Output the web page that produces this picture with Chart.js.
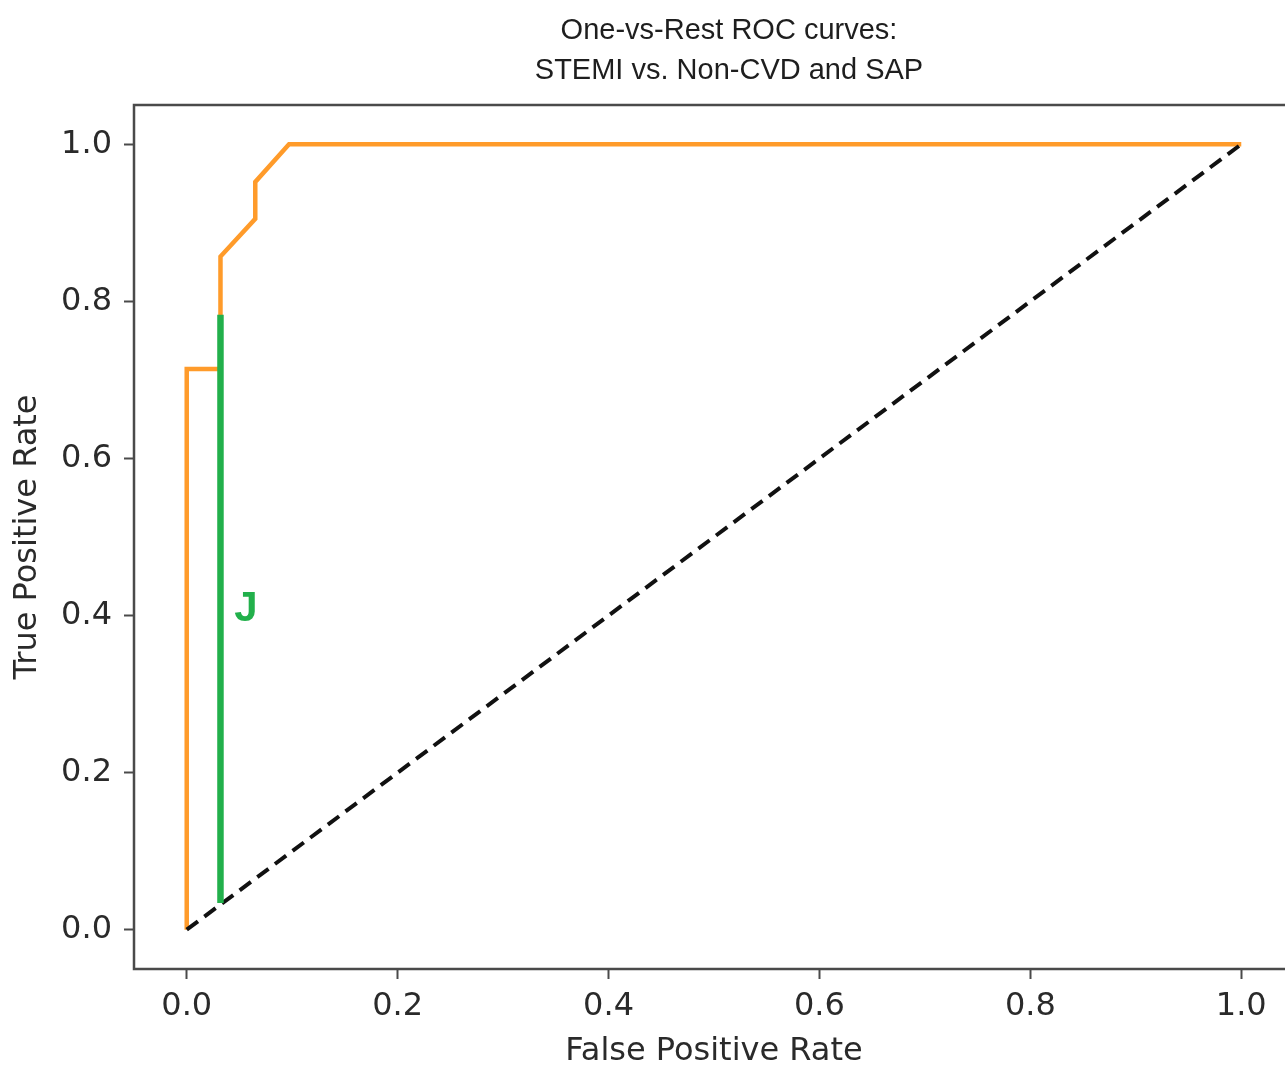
<!DOCTYPE html>
<html>
<head>
<meta charset="utf-8">
<script src="https://cdn.jsdelivr.net/npm/chart.js@4/dist/chart.umd.min.js"></script>
<style>
  html, body { margin: 0; padding: 0; background: #fff; overflow: hidden; width: 1285px; height: 1065px; }
  #wrap { position: relative; width: 1458px; height: 1065px; }
</style>
</head>
<body>
<div id="wrap"><canvas id="c" width="1458" height="1065"></canvas></div>
<script>
// ---- data ----
const titleLines = ['One-vs-Rest ROC curves:', 'STEMI vs. Non-CVD and SAP'];
const xLabel = 'False Positive Rate';
const yLabel = 'True Positive Rate';
const tickValues = [0.0, 0.2, 0.4, 0.6, 0.8, 1.0];

// ROC curve (STEMI vs rest)
const rocFpr = [0.0, 0.0, 0.032, 0.032, 0.065, 0.065, 0.097, 1.0];
const rocTpr = [0.0, 0.714, 0.714, 0.857, 0.905, 0.952, 1.0, 1.0];

// chance diagonal
const diagX = [0.0, 1.0];
const diagY = [0.0, 1.0];

// Youden J segment
const jX = [0.032, 0.032];
const jY = [0.034, 0.783];
const jText = 'J';
const jAnchor = [0.045, 0.408];

const toPts = (xs, ys) => xs.map((x, i) => ({ x: x, y: ys[i] }));

const frameAndText = {
  id: 'frameAndText',
  afterDatasetsDraw(chart) {
    const { ctx, chartArea: a, scales } = chart;
    ctx.save();
    // J label
    ctx.fillStyle = '#22b04b';
    ctx.font = 'bold 42px "Liberation Sans", Arial, sans-serif';
    ctx.textAlign = 'left';
    ctx.textBaseline = 'middle';
    ctx.fillText(jText, scales.x.getPixelForValue(jAnchor[0]), scales.y.getPixelForValue(jAnchor[1]));
    // frame
    ctx.strokeStyle = '#4a4a4a';
    ctx.lineWidth = 2.5;
    ctx.strokeRect(a.left, a.top, a.right - a.left, a.bottom - a.top);
    // title
    ctx.fillStyle = '#1e1e1e';
    ctx.font = '29px "Liberation Sans", Arial, sans-serif';
    ctx.textAlign = 'center';
    ctx.textBaseline = 'alphabetic';
    ctx.fillText(titleLines[0], 729, 39);
    ctx.fillText(titleLines[1], 729, 79);
    ctx.restore();
  }
};

const tickFont = { family: 'DejaVu Sans', size: 32 };
const setTicks = (scale) => { scale.ticks = tickValues.map(v => ({ value: v })); };

new Chart(document.getElementById('c'), {
  type: 'scatter',
  data: {
    datasets: [
      { label: 'J', data: toPts(jX, jY), showLine: true, borderColor: '#22b04b', borderWidth: 6.5, pointRadius: 0, borderCapStyle: 'butt' },
      { label: 'chance', data: toPts(diagX, diagY), showLine: true, borderColor: '#111', borderWidth: 4, borderDash: [14, 8], pointRadius: 0 },
      { label: 'ROC', data: toPts(rocFpr, rocTpr), showLine: true, borderColor: '#ff9b2a', borderWidth: 4.5, pointRadius: 0, tension: 0 }
    ]
  },
  options: {
    responsive: false,
    animation: false,
    devicePixelRatio: 1,
    layout: { padding: { top: 105, right: 164, left: 0, bottom: 0 } },
    plugins: { legend: { display: false }, tooltip: { enabled: false }, title: { display: false } },
    scales: {
      x: {
        type: 'linear', min: -0.05, max: 1.05,
        afterBuildTicks: setTicks,
        afterFit: (s) => { s.height = 96; },
        grid: { drawOnChartArea: false, drawTicks: true, tickLength: 10, tickColor: '#4a4a4a', tickWidth: 2 },
        border: { display: false },
        ticks: { font: tickFont, color: '#2a2a2a', padding: 8, maxRotation: 0, callback: (v) => Number(v).toFixed(1) },
        title: { display: true, text: xLabel, font: { family: 'DejaVu Sans', size: 32, lineHeight: 1 }, color: '#2a2a2a', padding: { top: 0, bottom: -3 } }
      },
      y: {
        type: 'linear', min: -0.05, max: 1.05,
        afterBuildTicks: setTicks,
        afterFit: (s) => { s.width = 134; },
        grid: { drawOnChartArea: false, drawTicks: true, tickLength: 10, tickColor: '#4a4a4a', tickWidth: 2 },
        border: { display: false },
        ticks: { font: tickFont, color: '#2a2a2a', padding: 12, callback: (v) => Number(v).toFixed(1) },
        title: { display: true, text: yLabel, font: { family: 'DejaVu Sans', size: 32, lineHeight: 1 }, color: '#2a2a2a', padding: { top: 12, bottom: 0 } }
      }
    }
  },
  plugins: [frameAndText]
});
</script>
</body>
</html>
